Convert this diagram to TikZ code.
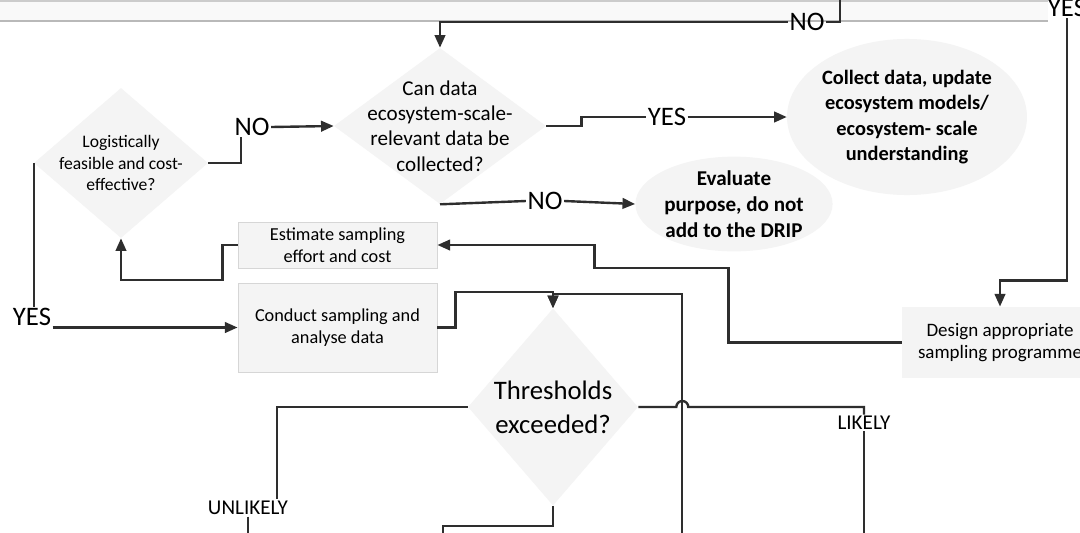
\documentclass[tikz,border=0pt]{standalone}
\usepackage{fontspec}
\setmainfont{Carlito}
\usetikzlibrary{arrows.meta,positioning,shapes}
\pgfdeclarelayer{background layer}
\pgfsetlayers{background layer,main}
\definecolor{softgrey}{gray}{0.955}
\definecolor{edgegrey}{gray}{0.84}
\definecolor{ink}{gray}{0.18}

\begin{document}
\begin{tikzpicture}[x=0.025cm,y=-0.025cm]
\tikzstyle{decision}=[diamond,fill=softgrey,inner sep=0pt]
\tikzstyle{outcome}=[ellipse,fill=softgrey,inner sep=0pt]
\tikzstyle{process}=[rectangle,fill=softgrey,draw=edgegrey,line width=0.6pt,inner sep=0pt]
\tikzstyle{qtext}=[align=center,inner sep=0pt]
\tikzstyle{lbl}=[inner sep=1pt,font=\fontsize{19}{19}\selectfont]
\tikzstyle{smalllbl}=[inner sep=1pt,font=\fontsize{15}{15}\selectfont]
\tikzstyle{arrow}=[line width=1.7pt,draw=ink]
\tikzstyle{arr}=[arrow,-{Triangle[length=9pt,width=7.5pt]}]
\useasboundingbox (0,0) rectangle (1080,533);

\node [decision,minimum width=4.35cm,minimum height=3.75cm] (logD) at (121,163) {};
\node [qtext,font=\fontsize{12.5}{15.5}\selectfont] (logT) at (logD) {Logistically\\feasible and cost-\\effective?};
\node [decision,minimum width=5.3cm,minimum height=3.9cm] (canD) at (440,126) {};
\node [qtext,font=\fontsize{15}{18}\selectfont] (canT) at (canD) {Can data\\ecosystem-scale-\\relevant data be\\collected?};
\node [decision,minimum width=4.25cm,minimum height=4.925cm] (thrD) at (553,407) {};
\node [qtext,font=\fontsize{19}{24}\selectfont] (thrT) at (thrD) {Thresholds\\exceeded?};
\node [outcome,minimum width=5.25cm,minimum height=3.9cm,align=center,font=\fontsize{14.5}{18}\selectfont\bfseries] (collE) at (907,117) {Collect data, update\\ecosystem models/\\ecosystem- scale\\understanding};
\node [outcome,minimum width=4cm,minimum height=2.125cm,align=center,font=\fontsize{15}{18.5}\selectfont\bfseries] (evalE) at (734,204) {Evaluate\\purpose, do not\\add to the DRIP};
\node [process,minimum width=4.975cm,minimum height=1.15cm,align=center,font=\fontsize{13}{15.6}\selectfont] (est) at (337.5,245) {Estimate sampling\\effort and cost};
\node [process,minimum width=4.975cm,minimum height=2.225cm,align=center,font=\fontsize{13}{15.6}\selectfont] (conduct) at (337.5,327.5) {Conduct sampling and\\analyse data};
\node [process,draw=none,minimum width=4.9cm,minimum height=1.775cm,align=center,font=\fontsize{13.5}{15.6}\selectfont] (design) at (1000,342.5) {Design appropriate\\sampling programme};

\node [lbl] (noA) at (807,22) {NO};
\node [lbl] (noB) at (252,127) {NO};
\node [lbl] (noC) at (545,201) {NO};
\node [lbl] (yesA) at (1067,8) {YES};
\node [lbl] (yesB) at (667,117) {YES};
\node [lbl] (yesC) at (32,317) {YES};
\node [smalllbl] (likely) at (864,423) {LIKELY};
\node [smalllbl] (unlikely) at (248,508) {UNLIKELY};

\coordinate (topin) at (840,0);
\coordinate (loopin) at (682,533);
\coordinate (likelyout) at (864,533);
\coordinate (unlikelyout) at (248,533);
\coordinate (throut) at (443,533);

\draw [arrow] (topin) |- (noA.east);
\draw [arr] (noA.west) -| (canD.north);
\draw [arrow] (logD.east) -| ([xshift=0.2cm]noB.south west);
\draw [arr] (noB.east) -- (canD.west);
\draw [arrow] (canD.east) -- ++(35,0) |- (yesB.west);
\draw [arr] (yesB.east) -- (collE.west);
\draw [arrow] (canD.south) -- (noC.west);
\draw [arr] (noC.east) -- (evalE.west);
\draw [arr] (yesA.south) -- ++(0,262) -| (design.north);
\draw [arr] (design.west) -| ++(-173,-74.5) -| ++(-134,-23) -- (est.east);
\draw [arr] (est.west) -| ++(-15,35) -| (logD.south);
\draw [arrow] (logD.west) -- (logD.west |- yesC.north);
\draw [arr] (yesC.east |- conduct.west) -- (conduct.west);
\draw [arr] (conduct.east) -| ++(18,-35.5) -| (thrD.north);
\draw [arr] (loopin) -- ++(0,-239) -| (thrD.north);
\draw [arrow] (thrD.east) -- ++(38,0) arc [start angle=180,end angle=360,radius=6] -| (likely.north);
\draw [arrow] (likely.south) -- (likelyout);
\draw [arrow] (thrD.west) -| ([xshift=0.725cm]unlikely.north);
\draw [arrow] (unlikely.south) -- (unlikelyout);
\draw [arrow] (thrD.south) -- ++(0,20) -| (throut);

\begin{pgfonlayer}{background layer}
\fill [white] (0,0) rectangle (1080,533);
\fill [gray!5] (0,0) rectangle (1048,21);
\draw [gray!55,line width=1pt] (0,21) -- (1048,21);
\draw [gray!40,line width=2pt] (0,1) -- (1048,1);
\end{pgfonlayer}
\end{tikzpicture}
\end{document}
